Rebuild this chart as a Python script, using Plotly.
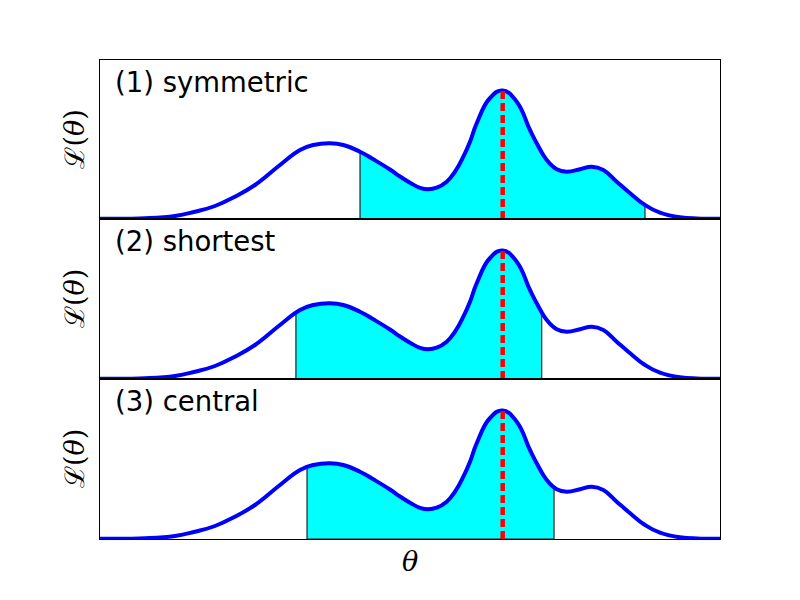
import plotly.graph_objects as go

# curve (theta in arbitrary units, likelihood in arbitrary units)
theta = [0.000, 0.726, 1.210, 1.532, 1.855, 2.177, 2.500, 2.903, 3.226, 3.440, 3.710,
         3.924, 4.194, 4.408, 4.677, 4.839, 5.000, 5.161, 5.295, 5.431, 5.592, 5.726,
         5.860, 5.968, 6.076, 6.290, 6.495, 6.721, 6.935, 7.044, 7.205, 7.366, 7.527,
         7.742, 7.931, 8.118, 8.334, 8.521, 8.790, 9.032, 9.355, 10.0]
L = [0.003, 0.007, 0.030, 0.073, 0.130, 0.223, 0.340, 0.540, 0.690, 0.740, 0.757,
     0.740, 0.673, 0.597, 0.495, 0.425, 0.363, 0.312, 0.297, 0.313, 0.373, 0.473,
     0.623, 0.773, 0.957, 1.210, 1.285, 1.173, 0.890, 0.757, 0.590, 0.497, 0.473,
     0.497, 0.523, 0.490, 0.373, 0.273, 0.140, 0.063, 0.017, 0.003]

panel_labels = ["(1) symmetric", "(2) shortest", "(3) central"]
ci_lo = [4.194, 3.16, 3.339]
ci_hi = [8.79, 7.124, 7.323]
L_lo = [0.673, 0.65, 0.71]
L_hi = [0.14, 0.66, 0.52]
mode_theta = 6.495
mode_L = 1.285

fig = go.Figure()
H = 479.0
bounds = [(60, 219), (219, 379), (379, 539)]  # pixel tops/bottoms of panels
for i in range(3):
    ax = "" if i == 0 else str(i + 1)
    xa, ya = "x" + ax, "y" + ax
    lo, hi = ci_lo[i], ci_hi[i]
    fx = [lo] + [t for t in theta if lo < t < hi] + [hi]
    fy = [L_lo[i]] + [l for t, l in zip(theta, L) if lo < t < hi] + [L_hi[i]]
    fig.add_trace(go.Scatter(x=fx, y=fy, mode="lines", fill="tozeroy", fillcolor="#00ffff",
                             line=dict(width=0, shape="spline", smoothing=1.3),
                             xaxis=xa, yaxis=ya, showlegend=False, hoverinfo="skip"))
    fig.add_trace(go.Scatter(x=[lo, lo, None, hi, hi, None, lo, hi],
                             y=[0, L_lo[i], None, 0, L_hi[i], None, 0, 0],
                             mode="lines", line=dict(color="#222222", width=1.2),
                             xaxis=xa, yaxis=ya, showlegend=False, hoverinfo="skip"))
    fig.add_trace(go.Scatter(x=theta, y=L, mode="lines",
                             line=dict(color="#0000ff", width=4, shape="spline", smoothing=1.3),
                             xaxis=xa, yaxis=ya, showlegend=False))
    fig.add_trace(go.Scatter(x=[mode_theta, mode_theta], y=[0, mode_L], mode="lines",
                             line=dict(color="#ff0000", width=4.5, dash="8px,4px"),
                             xaxis=xa, yaxis=ya, showlegend=False))
    top, bot = bounds[i]
    dom = [(539 - bot) / H, (539 - top) / H]
    axis_common = dict(showline=True, mirror=True, linecolor="black", linewidth=1,
                       showgrid=False, zeroline=False, showticklabels=False, ticks="")
    fig.layout["xaxis" + ax] = dict(domain=[0, 1], range=[0, 10], anchor=ya, **axis_common)
    fig.layout["yaxis" + ax] = dict(domain=dom, range=[0, (bot - top) / 100.0], anchor=xa,
                                    **axis_common)
    fig.add_annotation(text=panel_labels[i], xref=xa + " domain", yref=ya + " domain",
                       x=0.021, y=1 - 21.5 / (bot - top), xanchor="left", yanchor="middle",
                       showarrow=False, font=dict(family="DejaVu Sans", size=27.5, color="black"))
    fig.add_annotation(text="ℒ(<i>θ</i>)", xref="paper", yref="paper",
                       x=(74 - 100) / 620.0, y=(539 - (top + bot) / 2) / H,
                       xanchor="center", yanchor="middle", textangle=-90, showarrow=False,
                       font=dict(family="DejaVu Serif", size=27, color="black"))

fig.add_annotation(text="<i>θ</i>", xref="paper", yref="paper", x=0.5, y=(539 - 561) / H,
                   xanchor="center", yanchor="middle", showarrow=False,
                   font=dict(family="DejaVu Serif", size=27, color="black"))

fig.update_layout(width=800, height=600, margin=dict(l=92, r=88, t=52, b=69),
                  plot_bgcolor="white", paper_bgcolor="white")
fig.write_html("out.html")
